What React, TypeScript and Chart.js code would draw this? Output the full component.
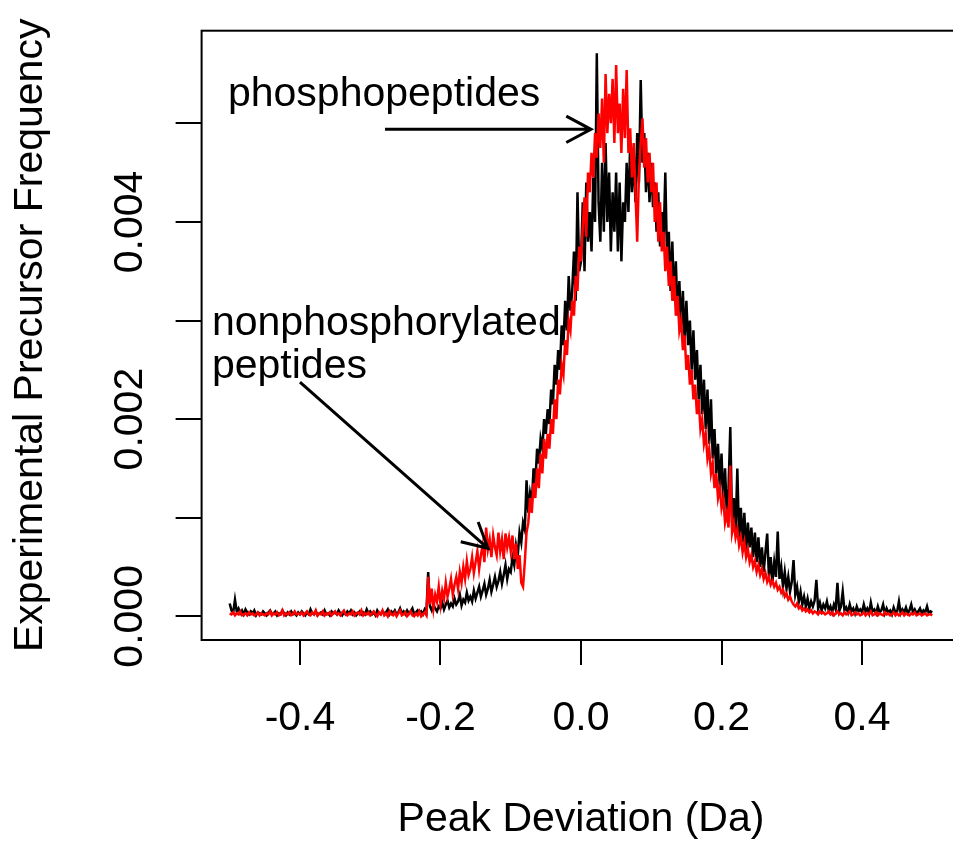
import React, { useEffect, useRef } from "react";
import { Chart, registerables } from "chart.js";

Chart.register(...registerables);

// Histogram bins (Da)
const binStart = -0.5;
const binWidth = 0.0025;

// Frequencies, in units of 1e-3 (each row = 0.05 Da)
const blackFreq = [
  0.13, 0.06, 0.04, 0.17, 0.05, 0.08, 0.03, 0.06, 0.02, 0.07, 0.04, 0.02, 0.05, 0.03, 0.06, 0.01, 0.04, 0.03, 0.02, 0.05,
  0.03, 0.01, 0.04, 0.06, 0.02, 0.03, 0.05, 0.01, 0.03, 0.02, 0.06, 0.03, 0.01, 0.04, 0.02, 0.05, 0.02, 0.03, 0.01, 0.04,
  0.02, 0.05, 0.03, 0.01, 0.04, 0.02, 0.07, 0.03, 0.02, 0.05, 0.01, 0.03, 0.04, 0.02, 0.06, 0.02, 0.03, 0.01, 0.05, 0.03,
  0.04, 0.02, 0.06, 0.03, 0.01, 0.04, 0.02, 0.05, 0.03, 0.06, 0.02, 0.04, 0.01, 0.03, 0.05, 0.02, 0.04, 0.02, 0.07, 0.03,
  0.05, 0.02, 0.04, 0.01, 0.06, 0.03, 0.02, 0.05, 0.03, 0.04, 0.07, 0.02, 0.05, 0.03, 0.06, 0.02, 0.04, 0.08, 0.03, 0.05,
  0.02, 0.06, 0.03, 0.05, 0.08, 0.02, 0.04, 0.06, 0.03, 0.05, 0.02, 0.07, 0.04, 0.45, 0.10, 0.06, 0.12, 0.08, 0.05, 0.10,
  0.08, 0.14, 0.07, 0.12, 0.16, 0.09, 0.13, 0.10, 0.18, 0.12, 0.15, 0.22, 0.11, 0.17, 0.14, 0.24, 0.16, 0.20, 0.15, 0.26,
  0.18, 0.24, 0.30, 0.20, 0.26, 0.33, 0.22, 0.28, 0.37, 0.25, 0.32, 0.40, 0.30, 0.36, 0.45, 0.33, 0.42, 0.52, 0.38, 0.48,
  0.45, 0.60, 0.52, 0.72, 0.62, 0.85, 0.75, 0.95, 0.88, 1.38, 1.05, 1.25, 1.15, 1.50, 1.35, 1.70, 1.55, 1.80, 1.70, 2.00,
  1.85, 2.10, 1.95, 2.30, 2.15, 2.55, 2.35, 2.70, 2.50, 2.95, 2.75, 3.20, 2.90, 3.45, 3.10, 3.30, 3.70, 3.20, 4.30, 3.50,
  3.60, 4.20, 3.50, 4.40, 3.80, 4.10, 3.70, 4.45, 4.00, 5.71, 4.20, 3.80, 4.60, 3.90, 4.80, 4.00, 4.50, 3.70, 4.30, 3.90,
  4.50, 3.70, 4.40, 3.60, 4.20, 4.00, 4.60, 4.10, 4.80, 4.30, 4.70, 4.20, 4.90, 4.40, 5.44, 4.60, 4.90, 4.30, 4.70, 4.20,
  4.60, 4.15, 4.40, 3.90, 4.30, 3.75, 4.10, 3.80, 4.50, 3.60, 3.90, 3.30, 3.80, 3.20, 3.60, 3.05, 3.40, 2.90, 3.30, 2.80,
  3.20, 2.75, 3.00, 2.50, 2.90, 2.40, 2.70, 2.20, 2.55, 2.05, 2.40, 1.90, 2.30, 1.75, 2.20, 1.60, 1.90, 1.45, 1.75, 1.30,
  1.65, 1.15, 1.50, 1.05, 1.30, 1.92, 0.95, 1.20, 0.85, 1.50, 0.80, 1.10, 0.75, 1.05, 0.65, 0.95, 0.70, 0.90, 0.60, 0.85,
  0.55, 0.80, 0.50, 0.70, 0.45, 0.65, 0.84, 0.40, 0.60, 0.35, 0.55, 0.40, 0.86, 0.38, 0.50, 0.30, 0.45, 0.28, 0.40, 0.25,
  0.35, 0.57, 0.22, 0.30, 0.15, 0.25, 0.12, 0.20, 0.10, 0.18, 0.08, 0.15, 0.10, 0.16, 0.37, 0.08, 0.14, 0.06, 0.12, 0.08,
  0.15, 0.06, 0.10, 0.04, 0.12, 0.07, 0.34, 0.05, 0.10, 0.25, 0.06, 0.09, 0.04, 0.12, 0.05, 0.08, 0.03, 0.10, 0.05, 0.07,
  0.04, 0.12, 0.05, 0.08, 0.03, 0.14, 0.05, 0.07, 0.03, 0.10, 0.04, 0.06, 0.12, 0.03, 0.08, 0.04, 0.06, 0.02, 0.09, 0.04,
  0.05, 0.15, 0.03, 0.07, 0.04, 0.09, 0.03, 0.06, 0.12, 0.04, 0.07, 0.03, 0.05, 0.08, 0.03, 0.06, 0.04, 0.10, 0.03, 0.05,
  0.04,
];

const redFreq = [
  0.03, 0.02, 0.04, 0.01, 0.03, 0.02, 0.05, 0.01, 0.02, 0.03, 0.01, 0.04, 0.02, 0.03, 0.01, 0.02, 0.04, 0.01, 0.03, 0.02,
  0.01, 0.03, 0.02, 0.05, 0.01, 0.03, 0.02, 0.04, 0.01, 0.02, 0.06, 0.01, 0.03, 0.02, 0.04, 0.01, 0.02, 0.05, 0.02, 0.03,
  0.02, 0.04, 0.01, 0.03, 0.05, 0.02, 0.01, 0.04, 0.02, 0.06, 0.01, 0.03, 0.02, 0.05, 0.01, 0.03, 0.02, 0.04, 0.01, 0.03,
  0.05, 0.02, 0.03, 0.01, 0.04, 0.06, 0.02, 0.01, 0.03, 0.02, 0.05, 0.01, 0.03, 0.04, 0.02, 0.06, 0.01, 0.03, 0.02, 0.04,
  0.01, 0.03, 0.05, 0.02, 0.00, 0.04, 0.02, 0.06, 0.01, 0.03, 0.00, 0.05, 0.02, 0.01, 0.04, 0.00, 0.03, 0.06, 0.01, 0.02,
  0.04, 0.00, 0.02, 0.05, 0.01, 0.00, 0.03, 0.01, 0.05, 0.00, 0.02, 0.04, 0.01, 0.40, 0.12, 0.28, 0.08, 0.22, 0.15, 0.30,
  0.12, 0.26, 0.18, 0.34, 0.20, 0.28, 0.38, 0.22, 0.32, 0.40, 0.28, 0.45, 0.34, 0.50, 0.38, 0.56, 0.42, 0.48, 0.60, 0.44,
  0.55, 0.66, 0.48, 0.62, 0.72, 0.55, 0.90, 0.68, 0.78, 0.60, 0.82, 0.70, 0.62, 0.85, 0.66, 0.78, 0.58, 0.84, 0.70, 0.80,
  0.66, 0.82, 0.58, 0.74, 0.48, 0.62, 0.34, 0.30, 0.55, 0.85, 0.95, 1.20, 1.05, 1.35, 1.20, 1.50, 1.30, 1.65, 1.45, 1.80,
  1.60, 1.85, 1.70, 2.00, 1.85, 2.20, 2.00, 2.40, 2.25, 2.55, 2.45, 2.80, 2.65, 3.00, 2.90, 3.20, 3.05, 3.45, 3.30, 3.75,
  3.60, 3.95, 4.25, 3.85, 4.50, 4.30, 4.70, 4.45, 4.90, 4.65, 5.10, 4.75, 5.25, 4.60, 5.50, 4.90, 5.30, 5.00, 5.45, 4.80,
  5.59, 4.90, 5.20, 4.70, 5.35, 4.85, 5.54, 4.70, 4.95, 4.45, 4.80, 4.30, 3.80, 4.50, 4.80, 5.05, 4.55, 4.85, 4.40, 4.70,
  4.30, 4.60, 4.00, 4.40, 3.80, 4.20, 3.70, 3.90, 3.50, 3.75, 3.35, 3.60, 3.20, 3.45, 3.05, 3.25, 2.90, 3.00, 2.70, 2.85,
  2.50, 2.65, 2.35, 2.50, 2.20, 2.35, 2.05, 2.20, 1.90, 2.00, 1.75, 1.85, 1.60, 1.70, 1.45, 1.55, 1.30, 1.45, 1.20, 1.30,
  1.10, 1.20, 0.95, 1.05, 0.90, 1.53, 0.85, 0.95, 0.80, 0.88, 0.72, 0.80, 0.65, 0.75, 0.60, 0.68, 0.55, 0.62, 0.50, 0.56,
  0.45, 0.52, 0.42, 0.48, 0.38, 0.44, 0.35, 0.40, 0.32, 0.36, 0.30, 0.34, 0.27, 0.30, 0.24, 0.27, 0.20, 0.23, 0.17, 0.20,
  0.15, 0.12, 0.10, 0.13, 0.08, 0.10, 0.06, 0.08, 0.05, 0.07, 0.04, 0.06, 0.03, 0.05, 0.04, 0.02, 0.05, 0.03, 0.04, 0.02,
  0.03, 0.05, 0.02, 0.04, 0.01, 0.03, 0.05, 0.02, 0.03, 0.01, 0.04, 0.02, 0.03, 0.05, 0.01, 0.02, 0.04, 0.02, 0.03, 0.01,
  0.02, 0.04, 0.01, 0.03, 0.02, 0.05, 0.01, 0.02, 0.04, 0.01, 0.03, 0.02, 0.01, 0.04, 0.02, 0.03, 0.01, 0.02, 0.04, 0.01,
  0.03, 0.01, 0.02, 0.04, 0.01, 0.03, 0.02, 0.01, 0.03, 0.02, 0.04, 0.01, 0.02, 0.03, 0.01, 0.02, 0.03, 0.01, 0.02, 0.02,
  0.01,
];

const xTickValues = [-0.4, -0.2, 0, 0.2, 0.4];
const xTickLabels = ["-0.4", "-0.2", "0.0", "0.2", "0.4"];
const yTickValues = [0, 0.001, 0.002, 0.003, 0.004, 0.005];
const yTickLabels = ["0.000", "", "0.002", "", "0.004", ""];
const xTitle = "Peak Deviation (Da)";
const yTitle = "Experimental Precursor Frequency";

// Annotations (data coordinates)
const noteLines = [["phosphopeptides"], ["nonphosphorylated", "peptides"]];
const noteX = [-0.5025, -0.5253];
const noteY = [0.005175, 0.002853];
const arrowFrom = [[-0.279, 0.004939], [-0.4, 0.002376]];
const arrowTo = [[0.0142, 0.004939], [-0.1324, 0.00069]];

const FONT = '"Liberation Sans", Arial, Helvetica, sans-serif';
const FS = 41;

const overlay = {
  id: "overlay",
  afterDatasetsDraw(chart: any) {
    const { ctx, chartArea: a, scales } = chart;
    const xs = scales.x;
    const ys = scales.y;
    ctx.save();
    ctx.strokeStyle = "#000";
    ctx.lineWidth = 2;
    ctx.strokeRect(a.left, a.top, a.right - a.left, a.bottom - a.top);

    ctx.fillStyle = "#000";
    ctx.font = `${FS}px ${FONT}`;
    ctx.textAlign = "left";
    ctx.textBaseline = "alphabetic";
    noteLines.forEach((lines, k) => {
      const px = xs.getPixelForValue(noteX[k]);
      const py = ys.getPixelForValue(noteY[k]);
      lines.forEach((t, j) => ctx.fillText(t, px, py + j * 43));
    });

    ctx.lineWidth = 3;
    arrowFrom.forEach((from, k) => {
      const x1 = xs.getPixelForValue(from[0]);
      const y1 = ys.getPixelForValue(from[1]);
      const x2 = xs.getPixelForValue(arrowTo[k][0]);
      const y2 = ys.getPixelForValue(arrowTo[k][1]);
      const ang = Math.atan2(y2 - y1, x2 - x1);
      const hl = 28;
      const ha = (28 * Math.PI) / 180;
      ctx.beginPath();
      ctx.moveTo(x1, y1);
      ctx.lineTo(x2, y2);
      ctx.moveTo(x2 - hl * Math.cos(ang - ha), y2 - hl * Math.sin(ang - ha));
      ctx.lineTo(x2, y2);
      ctx.lineTo(x2 - hl * Math.cos(ang + ha), y2 - hl * Math.sin(ang + ha));
      ctx.stroke();
    });
    ctx.restore();
  },
};

export default function App() {
  const ref = useRef<HTMLCanvasElement>(null);
  useEffect(() => {
    if (!ref.current) return;
    Chart.defaults.font.family = FONT;
    const toPts = (arr: number[]) =>
      arr.map((v, i) => ({ x: binStart + i * binWidth, y: v / 1000 }));
    const chart = new Chart(ref.current, {
      type: "line",
      data: {
        datasets: [
          {
            label: "nonphosphorylated peptides",
            data: toPts(redFreq),
            borderColor: "#ff0000",
            borderWidth: 2.5,
            pointRadius: 0,
            tension: 0,
          },
          {
            label: "phosphopeptides",
            data: toPts(blackFreq),
            borderColor: "#000000",
            borderWidth: 2.5,
            pointRadius: 0,
            tension: 0,
          },
        ],
      },
      options: {
        animation: false,
        responsive: false,
        devicePixelRatio: 1,
        layout: { padding: { top: 30.7, right: 1.6, left: 0, bottom: 0 } },
        plugins: { legend: { display: false }, tooltip: { enabled: false } },
        scales: {
          x: {
            type: "linear",
            min: -0.54,
            max: 0.54,
            afterBuildTicks: (s: any) => {
              s.ticks = xTickValues.map((v) => ({ value: v }));
            },
            afterFit: (s: any) => {
              s.height = 204;
            },
            grid: {
              display: true,
              drawOnChartArea: false,
              drawTicks: true,
              tickLength: 25,
              color: "#000",
              lineWidth: 2,
            },
            border: { display: false },
            ticks: {
              autoSkip: false,
              minRotation: 0,
              maxRotation: 0,
              padding: 29,
              color: "#000",
              font: { size: FS },
              callback: (_v: any, i: number) => xTickLabels[i],
            },
            title: {
              display: true,
              text: xTitle,
              color: "#000",
              font: { size: FS },
              padding: { top: 0, bottom: 0 },
            },
          },
          y: {
            type: "linear",
            min: -0.00024,
            max: 0.005939,
            afterBuildTicks: (s: any) => {
              s.ticks = yTickValues.map((v) => ({ value: v }));
            },
            afterFit: (s: any) => {
              s.width = 201.6;
            },
            grid: {
              display: true,
              drawOnChartArea: false,
              drawTicks: true,
              tickLength: 26,
              color: "#000",
              lineWidth: 2,
            },
            border: { display: false },
            ticks: {
              autoSkip: false,
              minRotation: 90,
              maxRotation: 90,
              crossAlign: "center",
              padding: -6.4,
              color: "#000",
              font: { size: FS },
              callback: (_v: any, i: number) => yTickLabels[i],
            },
            title: {
              display: true,
              text: yTitle,
              color: "#000",
              font: { size: FS },
              padding: { top: 6, bottom: 0 },
            },
          },
        },
      },
      plugins: [overlay],
    } as any);
    return () => chart.destroy();
  }, []);

  return (
    <div
      style={{
        position: "fixed",
        left: 0,
        top: 0,
        width: 953,
        height: 844,
        overflow: "hidden",
        background: "#fff",
      }}
    >
      <canvas ref={ref} width={962} height={844} style={{ display: "block" }} />
    </div>
  );
}
